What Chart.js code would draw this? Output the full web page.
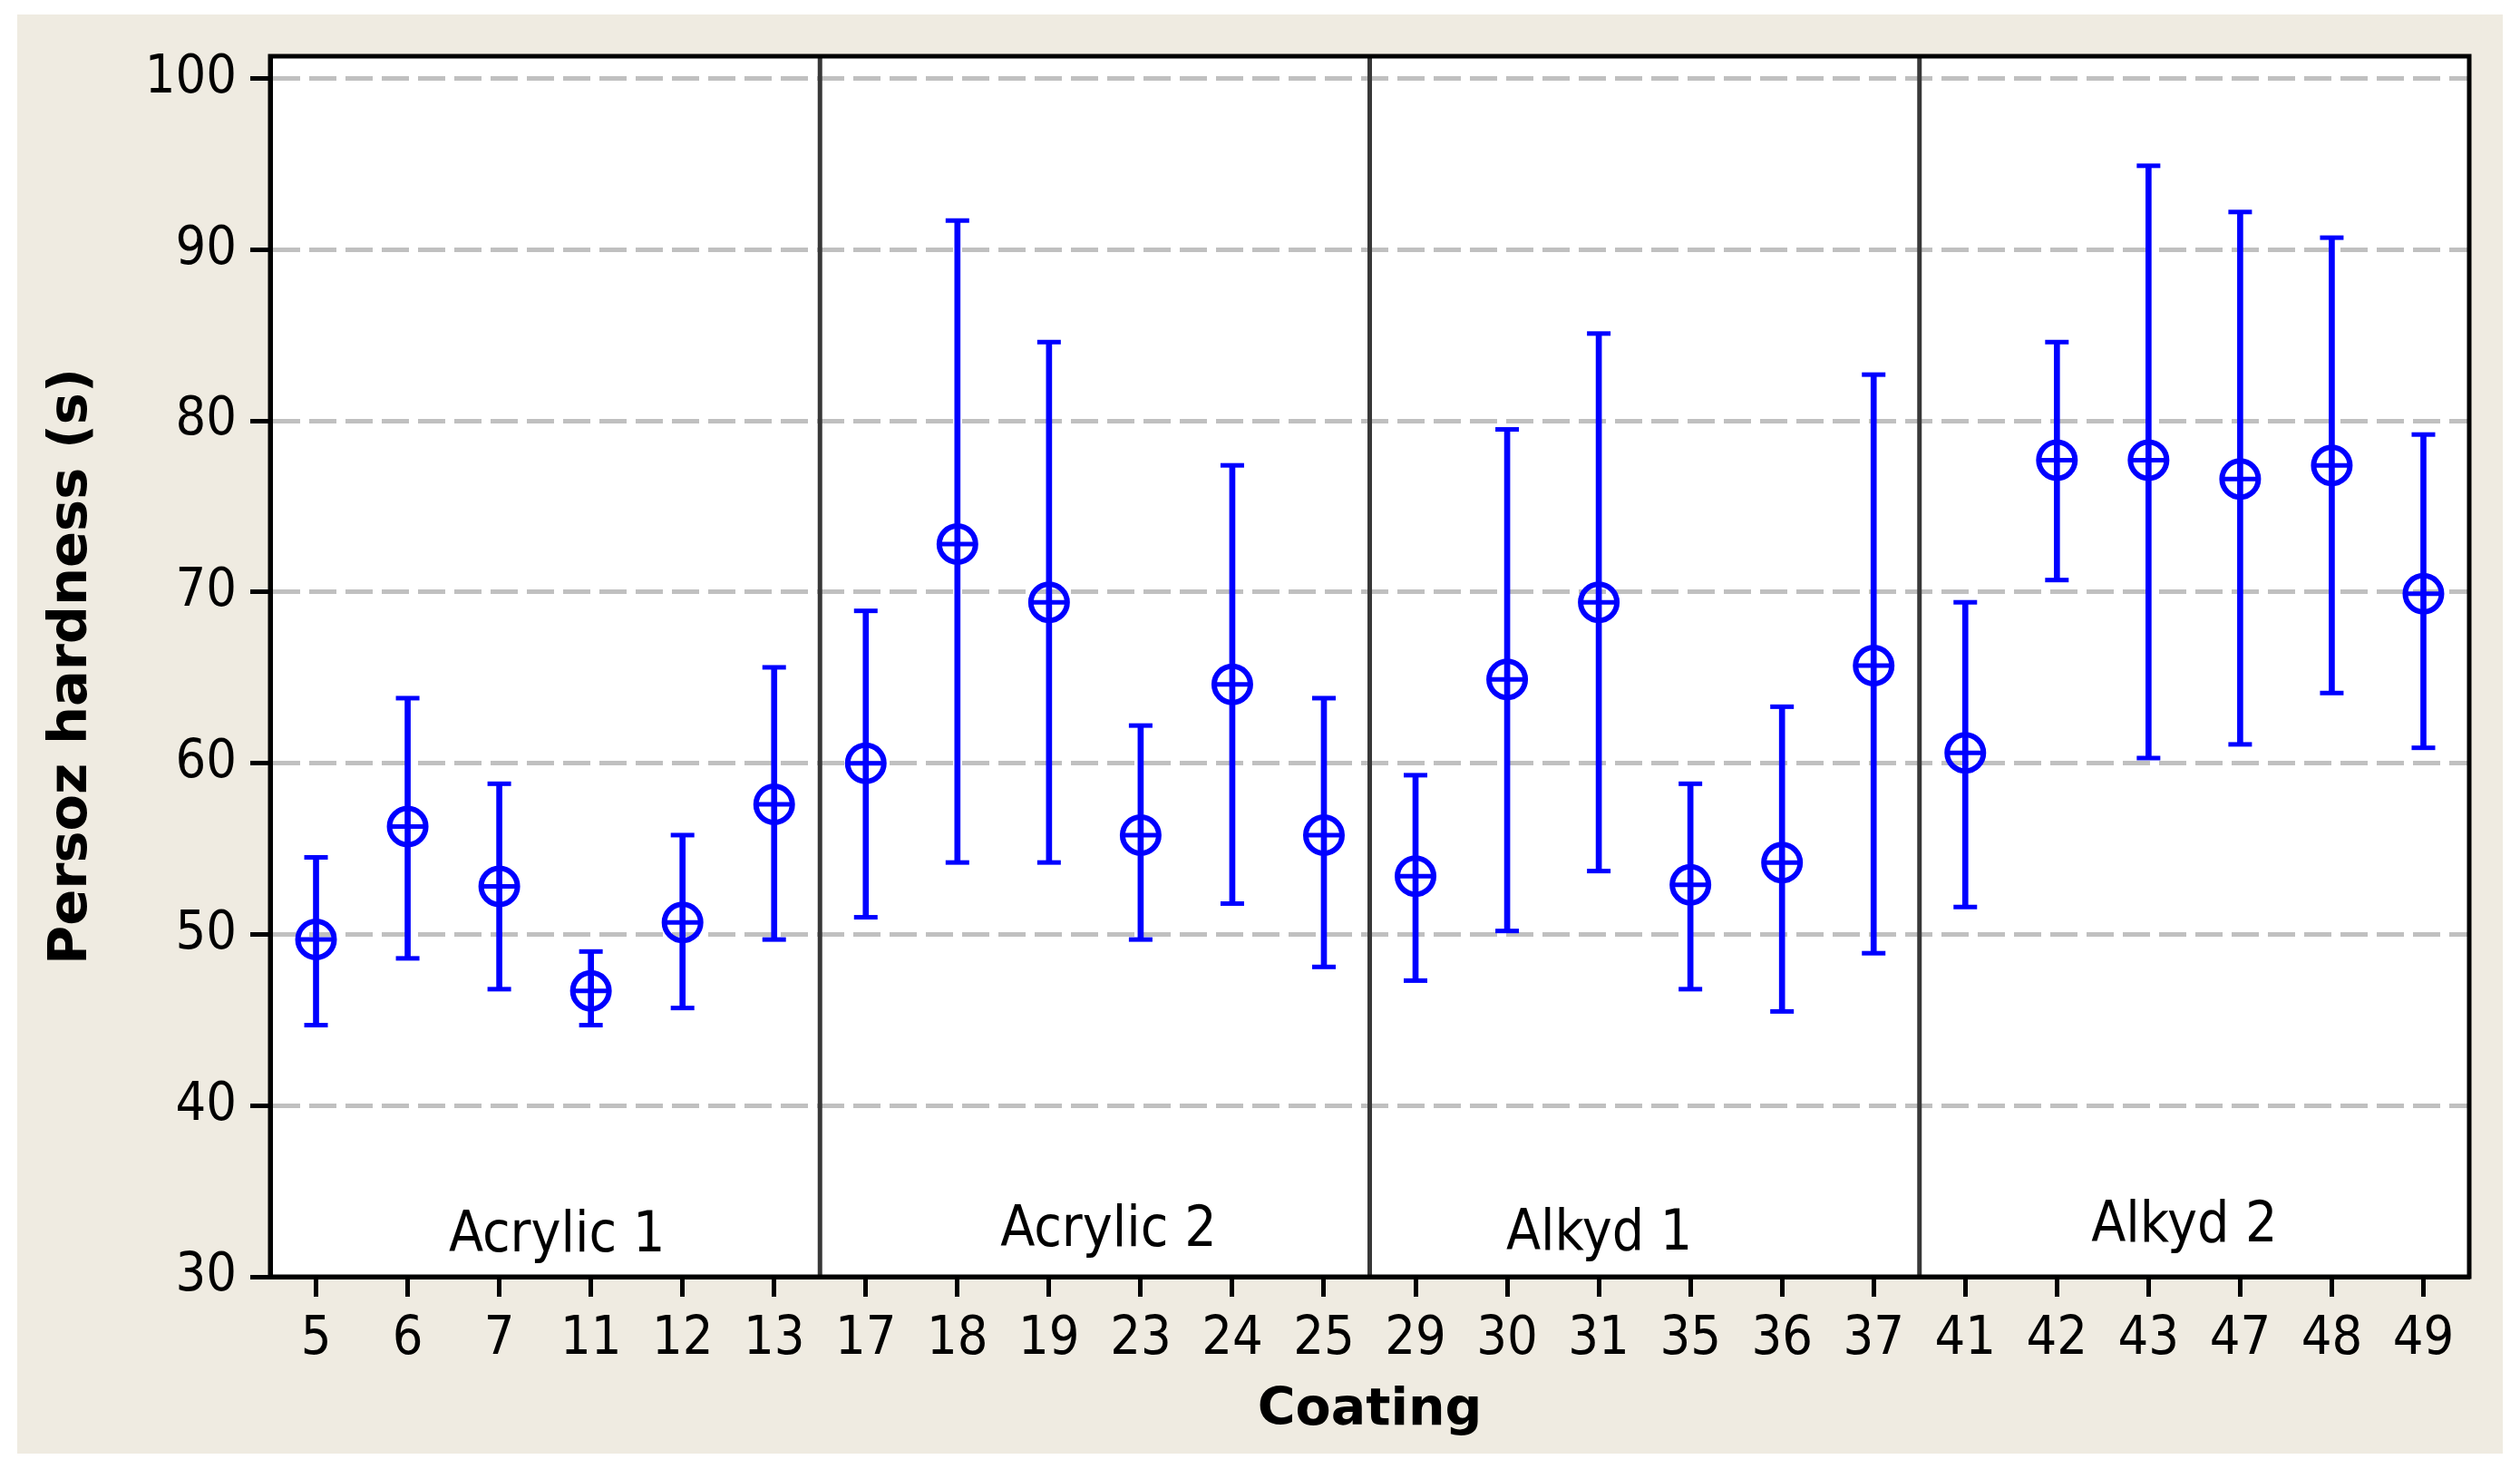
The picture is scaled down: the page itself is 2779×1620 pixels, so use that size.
<!DOCTYPE html>
<html>
<head>
<meta charset="utf-8">
<title>Persoz hardness by coating</title>
<script src="https://cdn.jsdelivr.net/npm/chart.js@4.4.1/dist/chart.umd.min.js"></script>
<style>
  html, body { margin: 0; padding: 0; background: #ffffff; }
  .chart-container { position: relative; width: 2779px; height: 1620px; }
</style>
</head>
<body>
<div class="chart-container">
  <canvas id="hardnessChart"></canvas>
</div>
<script>
// Coating numbers along the x axis
const coatings = ["5", "6", "7", "11", "12", "13", "17", "18", "19", "23", "24", "25",
                  "29", "30", "31", "35", "36", "37", "41", "42", "43", "47", "48", "49"];

// Mean Persoz hardness (s) for each coating
const means = [49.7, 56.3, 52.8, 46.7, 50.7, 57.6,
               60.0, 72.8, 69.4, 55.8, 64.6, 55.8,
               53.4, 64.9, 69.4, 52.9, 54.2, 65.7,
               60.6, 77.7, 77.7, 76.6, 77.4, 69.9];

// Upper and lower ends of the interval bars
const upper = [54.5, 63.8, 58.8, 49.0, 55.8, 65.6,
               68.9, 91.7, 84.6, 62.2, 77.4, 63.8,
               59.3, 79.5, 85.1, 58.8, 63.3, 82.7,
               69.4, 84.6, 94.9, 92.2, 90.7, 79.2];
const lower = [44.7, 48.6, 46.8, 44.7, 45.7, 49.7,
               51.0, 54.2, 54.2, 49.7, 51.8, 48.1,
               47.3, 50.2, 53.7, 46.8, 45.5, 48.9,
               51.6, 70.7, 60.3, 61.1, 64.1, 60.9];

// Coating groups: name and how many coatings belong to each
const groupNames = ["Acrylic 1", "Acrylic 2", "Alkyd 1", "Alkyd 2"];
const groupSizes = [6, 6, 6, 6];

// Y axis range and tick step
const yMin = 30;
const yMax = 101.3;
const yStep = 10;

const BLUE = "#0000ff";
const FONT = "'DejaVu Sans Condensed', 'DejaVu Sans', sans-serif";
const TITLE_FONT = "'DejaVu Sans', sans-serif";

// small horizontal nudges (px) and baseline heights for the group captions
const groupLabelNudge = [13, 15, -50, -11];
const groupLabelBaseline = [28, 34, 30, 39];

// paints the beige frame, the white plot area, the group dividers and the box
const framePlugin = {
  id: "frame",
  beforeDraw(chart) {
    const ctx = chart.ctx;
    const { left, top, right, bottom } = chart.chartArea;
    ctx.save();
    ctx.fillStyle = "#ffffff";
    ctx.fillRect(0, 0, chart.width, chart.height);
    ctx.fillStyle = "#efebe1";
    ctx.fillRect(19, 16, 2741, 1587);
    ctx.fillStyle = "#ffffff";
    ctx.fillRect(left, top, right - left, bottom - top);
    ctx.restore();
  },
  beforeDatasetsDraw(chart) {
    const ctx = chart.ctx;
    const x = chart.scales.x;
    const { left, top, right, bottom } = chart.chartArea;
    ctx.save();
    // dividers between groups
    ctx.strokeStyle = "#383838";
    ctx.lineWidth = 5;
    let idx = 0;
    for (let g = 0; g < groupSizes.length - 1; g++) {
      idx += groupSizes[g];
      const px = (x.getPixelForValue(idx - 1) + x.getPixelForValue(idx)) / 2;
      ctx.beginPath();
      ctx.moveTo(px, top);
      ctx.lineTo(px, bottom);
      ctx.stroke();
    }
    // group captions
    ctx.fillStyle = "#000000";
    ctx.font = `62px ${FONT}`;
    ctx.textAlign = "center";
    ctx.textBaseline = "alphabetic";
    let start = 0;
    groupNames.forEach((name, g) => {
      const end = start + groupSizes[g] - 1;
      const cx = (x.getPixelForValue(start) + x.getPixelForValue(end)) / 2;
      ctx.fillText(name, cx + groupLabelNudge[g], bottom - groupLabelBaseline[g]);
      start = end + 1;
    });
    // black box round the plot
    ctx.strokeStyle = "#000000";
    ctx.lineWidth = 5;
    ctx.strokeRect(left, top, right - left, bottom - top);
    ctx.restore();
  },
};

const ctx = document.getElementById("hardnessChart").getContext("2d");

new Chart(ctx, {
  data: {
    labels: coatings,
    datasets: [
      {
        // the vertical interval lines
        type: "bar",
        data: lower.map((lo, i) => [lo, upper[i]]),
        backgroundColor: BLUE,
        borderWidth: 0,
        barThickness: 6,
        order: 4,
      },
      {
        // caps on top
        type: "line",
        data: upper,
        showLine: false,
        pointStyle: "line",
        pointRadius: 13,
        pointBorderWidth: 5,
        pointBorderColor: BLUE,
        order: 3,
      },
      {
        // caps at the bottom
        type: "line",
        data: lower,
        showLine: false,
        pointStyle: "line",
        pointRadius: 13,
        pointBorderWidth: 5,
        pointBorderColor: BLUE,
        order: 3,
      },
      {
        // mean circle
        type: "line",
        data: means,
        showLine: false,
        pointStyle: "circle",
        pointRadius: 20,
        pointBorderWidth: 6,
        pointBorderColor: BLUE,
        pointBackgroundColor: "rgba(0,0,0,0)",
        order: 2,
      },
      {
        // cross inside the mean circle
        type: "line",
        data: means,
        showLine: false,
        pointStyle: "cross",
        pointRadius: 20,
        pointBorderWidth: 5,
        pointBorderColor: BLUE,
        order: 1,
      },
    ],
  },
  plugins: [framePlugin],
  options: {
    responsive: true,
    maintainAspectRatio: false,
    devicePixelRatio: 1,
    animation: false,
    layout: { padding: { left: 0, top: 62, right: 56, bottom: 0 } },
    plugins: {
      legend: { display: false },
      tooltip: { enabled: false },
    },
    scales: {
      x: {
        type: "category",
        offset: true,
        afterFit: (scale) => { scale.height = 212; },
        grid: {
          display: true,
          drawOnChartArea: false,
          drawTicks: true,
          tickLength: 22,
          tickWidth: 5,
          tickColor: "#000000",
          offset: false,
        },
        border: { display: true, color: "#000000", width: 5 },
        ticks: {
          color: "#000000",
          font: { family: FONT, size: 59 },
          padding: 12,
          maxRotation: 0,
          autoSkip: false,
        },
        title: {
          display: true,
          text: "Coating",
          color: "#000000",
          font: { family: TITLE_FONT, size: 57, weight: "bold" },
          padding: { top: 0, bottom: 30 },
        },
      },
      y: {
        min: yMin,
        max: yMax,
        afterFit: (scale) => { scale.width = 298; },
        grid: {
          color: (c) => (c.tick && c.tick.value === yMin ? "rgba(0,0,0,0)" : "#c0c0c0"),
          lineWidth: 5,
          drawTicks: true,
          tickLength: 22,
          tickWidth: 5,
          tickColor: "#000000",
          tickBorderDash: [],
        },
        border: { display: true, color: "#000000", width: 5, dash: [30, 10] },
        ticks: {
          stepSize: yStep,
          includeBounds: false,
          color: "#000000",
          font: { family: FONT, size: 59 },
          padding: 15,
        },
        title: {
          display: true,
          text: "Persoz hardness (s)",
          color: "#000000",
          font: { family: TITLE_FONT, size: 59, weight: "bold" },
          padding: { top: 44, bottom: 0 },
        },
      },
    },
  },
});
</script>
</body>
</html>
